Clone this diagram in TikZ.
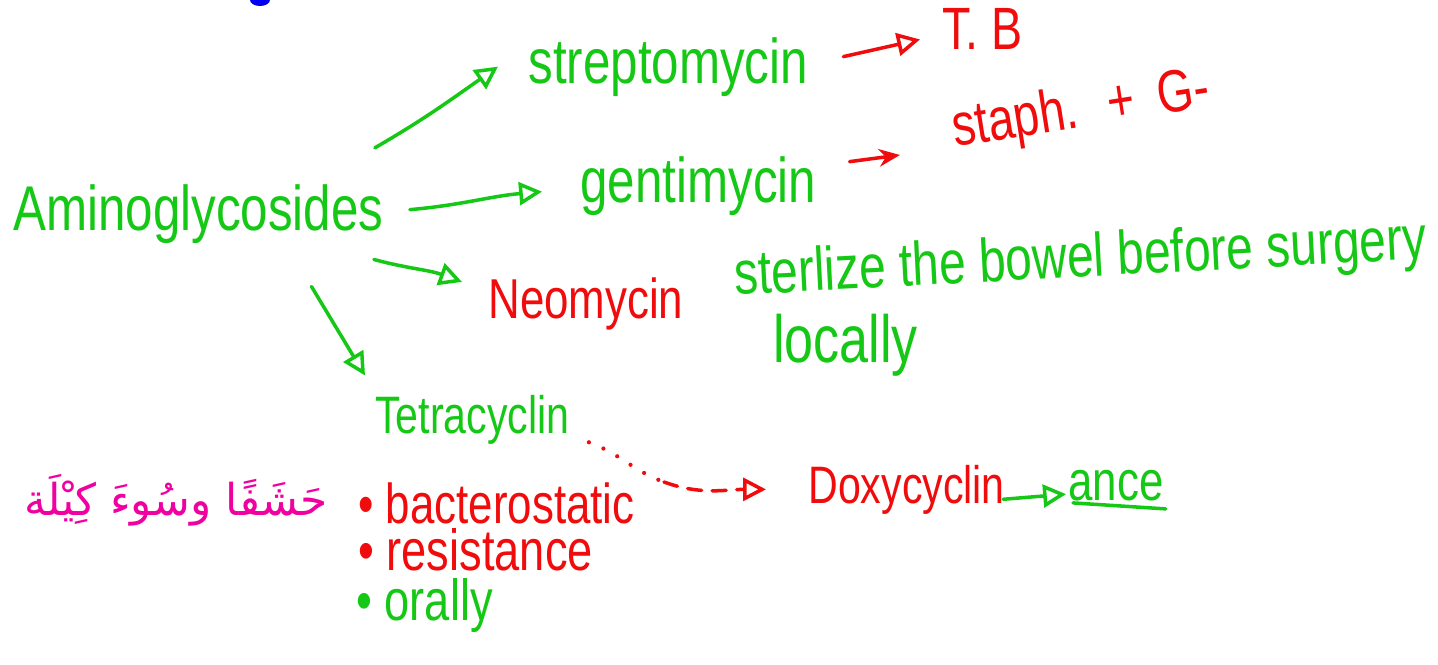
\documentclass[tikz,border=0pt]{standalone}
\usepackage{fontspec}
\setmainfont[FakeStretch=0.78]{Liberation Sans}
\newfontfamily\arabicfont[Script=Arabic]{DejaVu Sans}
\TeXXeTstate=1
\usetikzlibrary{arrows.meta,calc}
\definecolor{penG}{RGB}{22,200,22}
\definecolor{penR}{RGB}{240,12,12}
\definecolor{penP}{RGB}{240,0,160}
\definecolor{penB}{RGB}{0,0,240}
\newcommand\pen[1]{\fontsize{#1}{#1}\selectfont}

\begin{document}
\begin{tikzpicture}[
    x=0.02cm, y=0.02cm,
    word/.style={inner sep=0pt, anchor=base west},
    gword/.style={word, text=penG, font=\pen{#1}},
    rword/.style={word, text=penR, font=\pen{#1}},
    arr/.style={-{Triangle[open, length=13pt, width=13pt]}, line width=2pt, line cap=round},
    garr/.style={arr, penG},
    rarr/.style={arr, penR}
  ]
    \useasboundingbox (0,0) rectangle (1438,664);
    \fill[penB] (260,664) ellipse (10 and 6);

    % --- Aminoglycosides y ramas ---
    \node[gword=36] (amino) at (13,434) {Aminoglycosides};
    \node[gword=36] (strep) at (528,581) {streptomycin};
    \node[rword=34] (tb) at (942,614) {T. B};
    \node[gword=36] (genta) at (580,461) {gentimycin};
    \node[rword=34, rotate=9] (staph) at (955,517)
      {staph.\hspace{0.5em}+\hspace{0.4em}G-};
    \node[rword=32] (neo) at (488,346) {Neomycin};
    \node[gword=35, rotate=3] (sterl) at (735,369)
      {sterlize the bowel before surgery};
    \node[gword=38] (local) at (773,302) {locally};

    % --- Tetracyclin ---
    \node[gword=30] (tetra) at (375,231) {Tetracyclin};
    \node[rword=30] (doxy) at (808,161) {Doxycyclin};
    \node[gword=32] (ance) at (1068,164) {ance};
    \node[rword=32] (bact) at (358,141) {• bacterostatic};
    \node[rword=33] (resist) at (358,94) {• resistance};
    \node[gword=33] (orally) at (356,44) {• orally};
    \node[word, anchor=base east, text=penP, font=\arabicfont\pen{25}]
      (hashaf) at (328,149) {\beginR حَشَفًا وسُوءَ كِيْلَة\endR};

    % --- Flechas ---
    \draw[garr] ([shift={(-9,36)}]amino.north east) to[out=30, in=215]
      ([shift={(-30,0)}]strep.west);
    \draw[garr] ([shift={(26,4)}]amino.east) to[out=5, in=185]
      ([shift={(-38,-5)}]genta.west);
    \draw[garr] ([shift={(-10,-16)}]amino.south east) to[out=-15, in=160]
      ([shift={(-26,-5)}]neo.north west);
    \draw[garr] ([shift={(113,-43)}]amino.south)
      -- ([shift={(-10,19)}]tetra.north west);
    \draw[rarr] ([shift={(35,10)}]strep.east) -- ([shift={(-22,-10)}]tb.west);
    \draw[penR, line width=2pt, line cap=round, -{Stealth[length=12pt, width=10pt]}]
      ([shift={(33,25)}]genta.east) -- ([shift={(-55,-8)}]staph.base west);
    \coordinate (dmid) at (664,182);
    \draw[penR, line width=2.4pt, line cap=round, dash pattern=on 0pt off 9pt]
      ([shift={(19,2)}]tetra.south east) to[out=-20, in=160] (dmid);
    \draw[rarr, dash pattern=on 8pt off 6pt] (dmid) to[out=-20, in=180]
      ([shift={(-42,0)}]doxy.west);
    \draw[garr] ([shift={(-2,15)}]doxy.south east) -- ([shift={(-2,-9)}]ance.west);
    \draw[penG, line width=2pt, line cap=round]
      ([shift={(5,-2)}]ance.south west) -- ([shift={(2,-8)}]ance.south east);
  \end{tikzpicture}
\end{document}
